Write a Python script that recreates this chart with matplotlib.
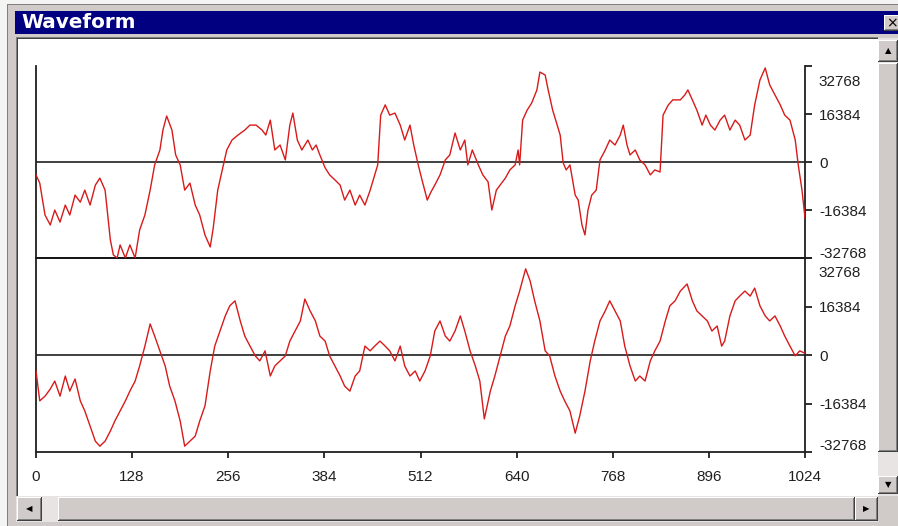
import matplotlib
matplotlib.use("Agg")
import matplotlib.pyplot as plt
from matplotlib.patches import Rectangle
from matplotlib.transforms import ScaledTranslation

# ---------------- data ----------------
title = "Waveform"
x_ticks = [0, 128, 256, 384, 512, 640, 768, 896, 1024]
y_ticks = [32768, 16384, 0, -16384, -32768]

top_samples = [0, 5, 12, 19, 25, 32, 39, 45, 52, 59, 65, 72, 79, 85, 92, 99, 103, 108, 112, 119,
               125, 132, 138, 145, 152, 158, 165, 169, 174, 181, 186, 192, 198, 205, 212, 218, 225, 232, 236, 242,
               248, 254, 261, 269, 278, 285, 293, 301, 306, 312, 318, 325, 332, 338, 342, 348, 354, 362, 368, 373,
               378, 385, 391, 398, 405, 411, 418, 425, 431, 438, 445, 451, 455, 459, 465, 471, 478, 485, 491, 498,
               503, 509, 514, 521, 526, 531, 538, 545, 551, 558, 565, 571, 575, 581, 589, 595, 602, 607, 613, 618,
               625, 631, 638, 642, 644, 648, 654, 660, 667, 671, 678, 682, 688, 694, 698, 702, 706, 711, 718, 722,
               727, 731, 735, 740, 746, 751, 758, 764, 771, 778, 782, 787, 791, 798, 804, 811, 818, 824, 831, 835,
               842, 848, 858, 864, 868, 874, 880, 887, 892, 898, 904, 911, 917, 924, 931, 937, 944, 951, 957, 964,
               971, 977, 984, 991, 997, 1004, 1011, 1015, 1020, 1024]
top_values = [-4400, -7200, -18100, -21500, -16400, -20500, -14700, -18100, -11300, -13700, -9600, -14700, -7900, -5500, -9600, -26600, -31700, -32768, -28300, -32768,
              -28300, -32768, -23200, -18100, -9600, -1000, 4100, 10900, 15700, 10900, 2400, -1000, -9600, -7200, -14700, -18100, -24900, -29000, -22500, -9600,
              -2700, 4100, 7500, 9200, 10900, 12600, 12600, 10900, 9200, 14300, 4100, 5800, 700, 12600, 16700, 7500, 4100, 7500, 4100, 5800,
              2400, -2000, -4400, -6100, -7900, -13000, -9600, -14700, -11300, -14700, -9600, -4400, -1000, 16000, 19500, 16000, 16700, 12600, 7500, 12600,
              5800, -1000, -6100, -13000, -10200, -7900, -4400, 700, 2400, 9900, 4100, 7500, -1000, 4100, -1000, -4400, -6800, -16400, -9600, -7900,
              -5500, -2700, -1000, 4100, -1000, 14300, 17700, 20100, 24600, 30700, 29700, 24600, 17700, 12600, 9200, -300, -2700, -1000, -11300, -13000,
              -21500, -24900, -16400, -11300, -9600, 700, 4100, 7500, 5800, 9200, 12600, 5800, 2400, 4100, 700, -1000, -4400, -2700, -3400, 16000,
              19500, 21200, 21200, 22900, 24600, 21200, 17700, 12600, 16000, 12600, 10900, 14300, 16000, 10900, 14300, 12600, 7500, 9200, 19500, 28000,
              32100, 26300, 22900, 19500, 16000, 14300, 7500, -1000, -9600, -19100]

bot_samples = [0, 5, 12, 19, 25, 32, 39, 45, 52, 59, 65, 72, 79, 85, 92, 99, 105, 112, 119, 125,
               132, 138, 145, 152, 158, 165, 172, 178, 185, 192, 198, 205, 212, 218, 225, 232, 238, 245, 252, 258,
               265, 272, 278, 285, 292, 298, 305, 312, 318, 325, 332, 338, 345, 352, 358, 365, 372, 378, 385, 391,
               398, 405, 411, 418, 425, 431, 438, 445, 451, 458, 465, 471, 478, 485, 491, 498, 505, 511, 518, 525,
               531, 538, 545, 551, 558, 565, 571, 578, 585, 591, 597, 605, 611, 618, 625, 631, 638, 644, 652, 658,
               664, 671, 678, 684, 691, 698, 704, 711, 718, 724, 731, 738, 744, 751, 758, 764, 771, 778, 784, 791,
               798, 804, 811, 818, 824, 831, 838, 844, 851, 858, 867, 874, 880, 887, 894, 900, 907, 913, 917, 924,
               931, 937, 944, 951, 957, 964, 971, 977, 984, 991, 997, 1004, 1011, 1017, 1023]
bot_values = [-5400, -15500, -13900, -11500, -8800, -13900, -7100, -12200, -8100, -15500, -18900, -24000, -29100, -30800, -29100, -25700, -22300, -18900, -15500, -12200,
              -8800, -3700, 3000, 10500, 6400, 1400, -3700, -10500, -15500, -22300, -30800, -29100, -27400, -22300, -17200, -5400, 3000, 8100, 13200, 16600,
              18300, 11500, 6400, 3000, -300, -2000, 1400, -7100, -3700, -2000, -300, 4700, 8100, 11500, 18900, 14900, 11500, 6400, 4700, -300,
              -3700, -7100, -10500, -12200, -7100, -5400, 3000, 1400, 3000, 4700, 3000, 1400, -2000, 3000, -3700, -7100, -5400, -8800, -5400, -300,
              8100, 11500, 6400, 4700, 8100, 13200, 8100, 1400, -3700, -8800, -21600, -12200, -7100, -300, 6400, 9800, 16600, 21600, 29100, 25000,
              18300, 11500, 1400, -300, -7100, -12200, -15500, -18900, -26400, -20600, -12200, -2000, 4700, 11500, 14900, 18300, 14900, 11500, 3000, -3700,
              -8800, -7100, -8800, -2000, 1400, 4700, 11500, 16600, 18300, 21600, 24000, 18300, 14900, 13200, 11500, 8100, 9800, 3000, 4700, 13200,
              18300, 19900, 21600, 19900, 22600, 16600, 13200, 11500, 13200, 9800, 6400, 3000, -300, 1400, 700]

# ---------------- figure ----------------
W, H = 898, 526
fig = plt.figure(figsize=(W / 100, H / 100), dpi=100)
fig.patch.set_facecolor("#f4f4f4")

FACE = "#d0cac8"
TRACK = "#e8e4e4"


def R(x0, y0, x1, y1, fc, z=0):
    fig.add_artist(Rectangle((x0 / W, 1 - y1 / H), (x1 - x0) / W, (y1 - y0) / H,
                             transform=fig.transFigure, fc=fc, ec="none", zorder=z))


def button(x0, y0, x1, y1, glyph=None, size=6):
    R(x0, y0, x1, y1, "#404040")
    R(x0, y0, x1 - 1, y1 - 1, "#ffffff")
    R(x0 + 1, y0 + 1, x1 - 1, y1 - 1, "#808080")
    R(x0 + 1, y0 + 1, x1 - 2, y1 - 2, FACE)
    if glyph:
        fig.text(((x0 + x1) / 2) / W, 1 - ((y0 + y1) / 2) / H, glyph, ha="center", va="center",
                 fontsize=size, color="black", family="DejaVu Sans")


# window frame
R(7, 4, W, H, "#808080")
R(8, 5, W, H, FACE)
# title bar
R(15, 11, W, 34, "#000080")
fig.text(21 / W, 1 - 23 / H, title, color="white", fontsize=14.4, fontweight="bold",
         family="DejaVu Sans", ha="left", va="center")
button(884, 15, W + 2, 31, "\u00d7", 10)
# client area
R(16, 37, 878, 496, "#808080")
R(17, 38, 878, 496, "#404040")
R(18, 39, 878, 496, "#ffffff")
# vertical scrollbar
R(878, 38, W, 496, TRACK)
button(878, 40, W, 62, "\u25b2", 6)
button(878, 63, W, 452)
button(878, 476, W, 494, "\u25bc", 6)
# horizontal scrollbar
R(16, 496, 880, 522, TRACK)
button(17, 497, 42, 521, "\u25c0", 6)
button(58, 497, 855, 521)
button(855, 497, 878, 521, "\u25b6", 6)
R(878, 496, W, 522, FACE)

# ---------------- axes ----------------
x0, x1 = 36, 805
axT = fig.add_axes([x0 / W, 1 - 258 / H, (x1 - x0) / W, (258 - 66) / H])
axB = fig.add_axes([x0 / W, 1 - 452 / H, (x1 - x0) / W, (452 - 258) / H])

RED = "#d81a1a"
axT.plot(top_samples, top_values, color=RED, lw=1.0, zorder=3)
axB.plot(bot_samples, bot_values, color=RED, lw=1.0, zorder=3)

for ax in (axT, axB):
    ax.set_facecolor("none")
    ax.set_xlim(0, 1024)
    ax.set_ylim(-32768, 32768)
    ax.axhline(0, color="#303030", lw=1.3, zorder=2)
    ax.spines["top"].set_visible(False)
    for s in ("left", "right", "bottom"):
        ax.spines[s].set_color("#202020")
        ax.spines[s].set_linewidth(1.3)
    ax.yaxis.tick_right()
    ax.set_yticks(y_ticks)
    ax.set_yticklabels([str(v) for v in y_ticks])
    ax.tick_params(axis="y", direction="out", length=5, width=1.3, pad=5,
                   labelsize=11, colors="#202020")
    for lab in ax.get_yticklabels():
        lab.set_family("Liberation Sans")

axT.spines["bottom"].set_color("black")
axT.set_xticks([])

axB.set_xticks(x_ticks)
axB.set_xticklabels([str(v) for v in x_ticks])
axB.tick_params(axis="x", direction="out", length=4, width=1.3, pad=9,
                labelsize=11, colors="#202020")
for lab in axB.get_xticklabels():
    lab.set_family("Liberation Sans")

# nudge edge labels like the original control
offs = {(0, 0): -15, (0, 4): 6, (1, 0): -13, (1, 4): 8}
for i, ax in enumerate((axT, axB)):
    labs = ax.get_yticklabels()
    for j, lab in enumerate(labs):
        if (i, j) in offs:
            dy = offs[(i, j)]
            lab.set_transform(lab.get_transform() + ScaledTranslation(0, dy / 100, fig.dpi_scale_trans))

fig.savefig("out.png", dpi=100)
